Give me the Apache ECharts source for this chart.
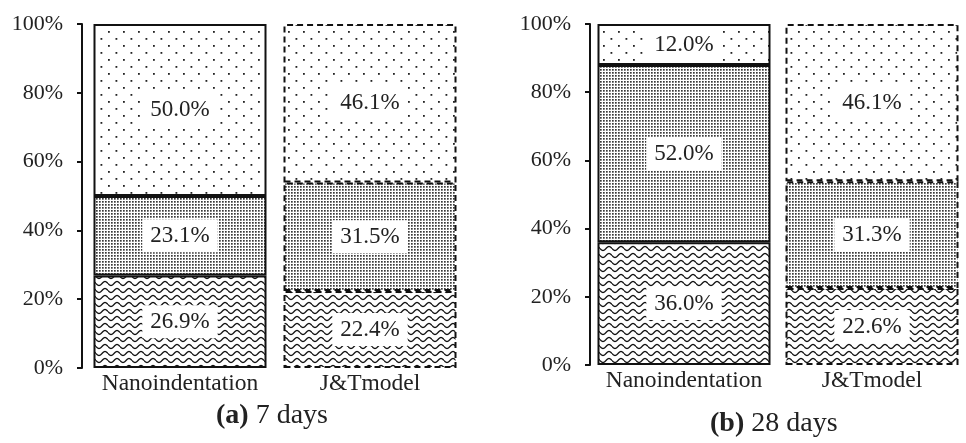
<!DOCTYPE html>
<html>
<head>
<meta charset="utf-8">
<script src="https://cdn.jsdelivr.net/npm/echarts@6/dist/echarts.min.js"></script>
<style>
  html, body { margin: 0; padding: 0; background: #fff; }
  #chart { width: 966px; height: 443px; }
</style>
</head>
<body>
<div id="chart"></div>
<script>
var categories = ['Nanoindentation', 'J&Tmodel'];
var yTicks = [0, 20, 40, 60, 80, 100];

// 7 days
var low7 = [26.9, 22.4];
var mid7 = [23.1, 31.5];
var top7 = [50.0, 46.1];
// 28 days
var low28 = [36.0, 22.6];
var mid28 = [52.0, 31.3];
var top28 = [12.0, 46.1];

var FONT = '"Liberation Serif", "DejaVu Serif", serif';

function makeTile(w, h, draw) {
  var c = document.createElement('canvas');
  c.width = w; c.height = h;
  var ctx = c.getContext('2d');
  ctx.fillStyle = '#fff';
  ctx.fillRect(0, 0, w, h);
  draw(ctx);
  return { image: c, repeat: 'repeat' };
}

// sparse staggered dots
var sparse = makeTile(15, 14, function (ctx) {
  ctx.fillStyle = '#222';
  ctx.fillRect(3, 3, 1.8, 1.8);
  ctx.fillRect(10.5, 10, 1.8, 1.8);
});
// dense dots
var dense = makeTile(3, 3, function (ctx) {
  ctx.fillStyle = '#3a3a3a';
  ctx.fillRect(0, 0, 1.7, 1.7);
});
// wavy lines
var wave = makeTile(12, 7, function (ctx) {
  ctx.strokeStyle = '#111';
  ctx.lineWidth = 1.3;
  ctx.beginPath();
  for (var x = 0; x <= 12; x += 0.5) {
    var y = 3.5 + 2 * Math.sin(x / 12 * Math.PI * 2);
    if (x === 0) ctx.moveTo(x, y); else ctx.lineTo(x, y);
  }
  ctx.stroke();
});

function items(vals) {
  return vals.map(function (v, i) {
    return {
      value: v,
      itemStyle: { borderType: i === 1 ? [6, 4] : 'solid' }
    };
  });
}

function seg(name, vals, fill, idx, stack) {
  return {
    name: name,
    type: 'bar',
    stack: stack,
    xAxisIndex: idx,
    yAxisIndex: idx,
    barWidth: 173,
    data: items(vals),
    itemStyle: { color: fill, borderColor: '#111', borderWidth: 2 },
    label: {
      show: true,
      position: 'inside',
      formatter: function (p) { return p.value.toFixed(1) + '%'; },
      color: '#222',
      fontFamily: FONT,
      fontSize: 23,
      backgroundColor: '#fff',
      padding: [6, 8, 4, 8]
    },
    emphasis: { disabled: true }
  };
}

function yAx(idx, offset) {
  return {
    type: 'value',
    gridIndex: idx,
    min: 0, max: 100, interval: 20,
    offset: offset,
    axisLine: { show: true, lineStyle: { color: '#111', width: 2 } },
    axisTick: { show: true, length: 5, lineStyle: { color: '#111', width: 2 } },
    splitLine: { show: false },
    axisLabel: {
      formatter: '{value}%', color: '#222', fontFamily: FONT, fontSize: 22, margin: 19
    }
  };
}

function xAx(idx) {
  return {
    type: 'category',
    gridIndex: idx,
    data: categories,
    axisLine: { show: false },
    axisTick: { show: false },
    axisLabel: { color: '#222', fontFamily: FONT, fontSize: 23.5, margin: 4, interval: 0 }
  };
}

var chart = echarts.init(document.getElementById('chart'));
chart.setOption({
  animation: false,
  grid: [
    { left: 85, top: 24, width: 380, height: 344 },
    { left: 590, top: 24, width: 380, height: 341 }
  ],
  xAxis: [xAx(0), xAx(1)],
  yAxis: [yAx(0, 3), yAx(1, 0)],
  series: [
    seg('low', low7, wave, 0, 'a'),
    seg('mid', mid7, dense, 0, 'a'),
    seg('top', top7, sparse, 0, 'a'),
    seg('low', low28, wave, 1, 'b'),
    seg('mid', mid28, dense, 1, 'b'),
    seg('top', top28, sparse, 1, 'b')
  ],
  graphic: [
    {
      type: 'text', left: 216, top: 402,
      style: {
        text: '{b|(a)} 7 days', fill: '#222', fontFamily: FONT, fontSize: 28,
        rich: { b: { fontWeight: 'bold', fontFamily: FONT, fontSize: 28, fill: '#222' } }
      }
    },
    {
      type: 'text', left: 710, top: 410,
      style: {
        text: '{b|(b)} 28 days', fill: '#222', fontFamily: FONT, fontSize: 28,
        rich: { b: { fontWeight: 'bold', fontFamily: FONT, fontSize: 28, fill: '#222' } }
      }
    }
  ]
});
</script>
</body>
</html>
